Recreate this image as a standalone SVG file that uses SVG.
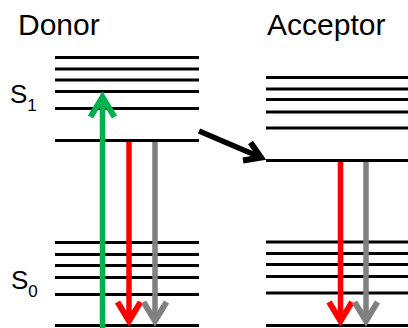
<svg xmlns="http://www.w3.org/2000/svg" width="408" height="328" viewBox="0 0 408 328">
<style>
.lvl{stroke:#000;stroke-width:3.2;fill:none}
.t{font-family:"Liberation Sans",Arial,sans-serif;fill:#000}
.arr{fill:none;stroke-width:5.5;stroke-linejoin:miter;stroke-linecap:butt}
.hd{stroke-width:6}
.g{stroke:#00b050}
.r{stroke:#ff0000}
.k{stroke:#808080}
.b{stroke:#000}
</style>
<rect width="408" height="328" fill="#fff"/>
<g id="donor">
<text class="t" x="18" y="35" font-size="30">Donor</text>
<text class="t" x="10" y="102.5" font-size="26">S<tspan font-size="17" dy="8">1</tspan></text>
<text class="t" x="11" y="288.5" font-size="26">S<tspan font-size="17" dy="8">0</tspan></text>
<line class="lvl" x1="55" y1="57.5" x2="199" y2="57.5"/>
<line class="lvl" x1="55" y1="69" x2="199" y2="69"/>
<line class="lvl" x1="55" y1="80" x2="199" y2="80"/>
<line class="lvl" x1="55" y1="91.5" x2="199" y2="91.5"/>
<line class="lvl" x1="55" y1="108.5" x2="199" y2="108.5"/>
<line class="lvl" x1="55" y1="140.5" x2="199" y2="140.5"/>
<line class="lvl" x1="55" y1="242.5" x2="199" y2="242.5"/>
<line class="lvl" x1="55" y1="254.5" x2="199" y2="254.5"/>
<line class="lvl" x1="55" y1="265.5" x2="199" y2="265.5"/>
<line class="lvl" x1="55" y1="277.5" x2="199" y2="277.5"/>
<line class="lvl" x1="55" y1="294.5" x2="199" y2="294.5"/>
<line class="lvl" x1="55" y1="325.5" x2="199" y2="325.5"/>
</g>
<g id="acceptor">
<text class="t" x="267" y="35" font-size="30">Acceptor</text>
<line class="lvl" x1="266" y1="77.5" x2="408" y2="77.5"/>
<line class="lvl" x1="266" y1="89" x2="408" y2="89"/>
<line class="lvl" x1="266" y1="99.5" x2="408" y2="99.5"/>
<line class="lvl" x1="266" y1="112" x2="408" y2="112"/>
<line class="lvl" x1="266" y1="128" x2="408" y2="128"/>
<line class="lvl" x1="266" y1="160.5" x2="408" y2="160.5"/>
<line class="lvl" x1="266" y1="242" x2="408" y2="242"/>
<line class="lvl" x1="266" y1="253.5" x2="408" y2="253.5"/>
<line class="lvl" x1="266" y1="264.5" x2="408" y2="264.5"/>
<line class="lvl" x1="266" y1="276.5" x2="408" y2="276.5"/>
<line class="lvl" x1="266" y1="293" x2="408" y2="293"/>
<line class="lvl" x1="266" y1="325.5" x2="408" y2="325.5"/>
</g>
<g id="connectors">
<line class="arr g" x1="102.5" y1="328" x2="102.5" y2="97"/>
<polyline class="arr hd g" points="90.5,117 102.5,97 114.5,117"/>
<line class="arr r" x1="129" y1="142" x2="129" y2="321"/>
<polyline class="arr hd r" points="117.5,302 129,321 140.5,302"/>
<line class="arr k" x1="155" y1="142" x2="155" y2="321"/>
<polyline class="arr hd k" points="143.5,302 155,321 166.5,302"/>
<line class="arr r" x1="340.5" y1="162" x2="340.5" y2="321"/>
<polyline class="arr hd r" points="329,302 340.5,321 352,302"/>
<line class="arr k" x1="366" y1="162" x2="366" y2="321"/>
<polyline class="arr hd k" points="354.5,302 366,321 377.5,302"/>
<line class="arr b" x1="199" y1="131" x2="261" y2="157.5"/>
<polyline class="arr hd b" points="250.5,142.5 261,157.5 243,160.5"/>
</g>
</svg>
